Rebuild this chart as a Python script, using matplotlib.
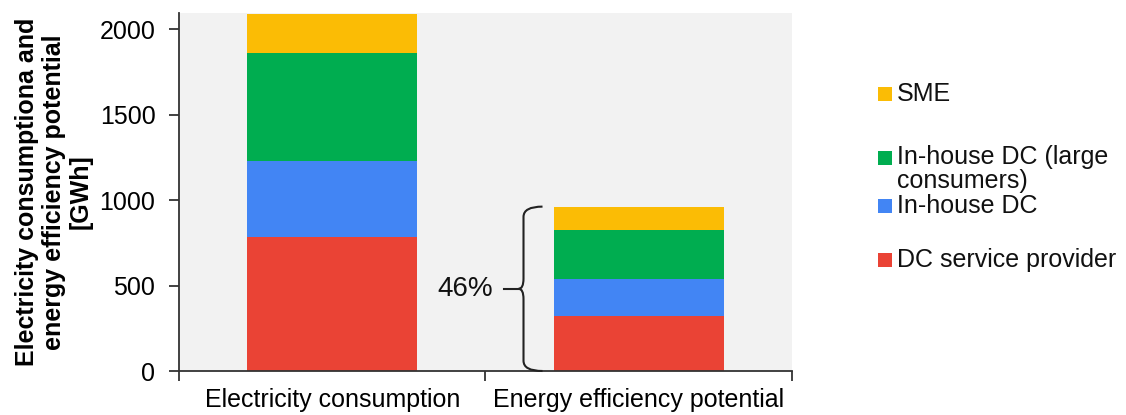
import matplotlib
matplotlib.use("Agg")
import matplotlib.pyplot as plt
import numpy as np
from matplotlib.path import Path
from matplotlib.patches import PathPatch, Rectangle

plt.rcParams['font.family'] = ['Liberation Sans', 'DejaVu Sans']

categories = ["Electricity consumption", "Energy efficiency potential"]
segments = ["DC service provider", "In-house DC", "In-house DC (large\nconsumers)", "SME"]
dc_service_provider = [785, 322]
inhouse_dc = [445, 215]
inhouse_dc_large = [631, 289]
sme = [226, 136]
share_label = "46%"
yticks = [0, 500, 1000, 1500, 2000]

series = [dc_service_provider, inhouse_dc, inhouse_dc_large, sme]
colors = ["#EA4335", "#4285F4", "#00AD50", "#FBBC05"]

fig = plt.figure(figsize=(11.26, 4.15), dpi=100)
ax = fig.add_axes([179 / 1126, 44 / 415, 613 / 1126, 358 / 415])
ax.set_facecolor("#F2F2F2")

x = np.arange(len(categories))
width = 0.556
bottom = np.zeros(len(categories))
for vals, col in zip(series, colors):
    ax.bar(x, vals, width, bottom=bottom, color=col, linewidth=0, zorder=2)
    bottom += np.array(vals)

ax.set_xlim(-0.5, 1.5)
ax.set_ylim(0, 2095)
ax.set_yticks(yticks)
ax.set_xticks(x)
ax.set_xticklabels(categories)
ax.set_xticks([-0.5, 0.5, 1.5], minor=True)
ax.tick_params(axis="x", which="major", length=0, pad=12, labelsize=18)
ax.tick_params(axis="x", which="minor", length=7, width=1.3, color="#333333")
ax.tick_params(axis="y", length=7, width=1.3, color="#333333", pad=10, labelsize=18)

for s in ["top", "right"]:
    ax.spines[s].set_visible(False)
for s in ["left", "bottom"]:
    ax.spines[s].set_color("#333333")
    ax.spines[s].set_linewidth(1.3)

ax.set_ylabel("Electricity consumptiona and\nenergy efficiency potential\n[GWh]",
              fontsize=18, fontweight="bold", ha="center", va="center",
              multialignment="center", linespacing=1.15)
ax.yaxis.set_label_coords(-0.204, 0.5)

# curly brace spanning the efficiency-potential bar
top = bottom[1]
mid = top / 2
r = 60
x_end, x_v, x_tip = 0.686, 0.624, 0.608
verts = [(x_end, top), (x_v, top), (x_v, top - r),
         (x_v, mid + r),
         (x_v, mid), (x_tip, mid),
         (x_v, mid), (x_v, mid - r),
         (x_v, r),
         (x_v, 0), (x_end, 0)]
codes = [Path.MOVETO, Path.CURVE3, Path.CURVE3,
         Path.LINETO,
         Path.CURVE3, Path.CURVE3,
         Path.CURVE3, Path.CURVE3,
         Path.LINETO,
         Path.CURVE3, Path.CURVE3]
ax.add_patch(PathPatch(Path(verts, codes), fill=False, edgecolor="#222222",
                       linewidth=1.5, zorder=3, clip_on=False))
ax.plot([0.559, x_tip], [mid, mid], color="#222222", linewidth=1.5, zorder=3)
ax.text(0.526, mid, share_label, ha="right", va="center", fontsize=20, color="#111111")

# legend, top entry first
legend_y = [94, 158, 206, 260]
legend_order = [3, 2, 1, 0]
for ypx, idx in zip(legend_y, legend_order):
    fy = 1 - ypx / 415
    fig.patches.append(Rectangle((878 / 1126, fy - 7 / 415), 14 / 1126, 14 / 415,
                                 transform=fig.transFigure, facecolor=colors[idx],
                                 edgecolor="none"))
    label = segments[idx]
    if "\n" in label:
        fig.text(897 / 1126, fy + 13 / 415, label, ha="left", va="top",
                 fontsize=18, linespacing=1.0, color="#111111")
    else:
        fig.text(897 / 1126, fy, label, ha="left", va="center",
                 fontsize=18, color="#111111")

fig.savefig("out.png", dpi=100)
